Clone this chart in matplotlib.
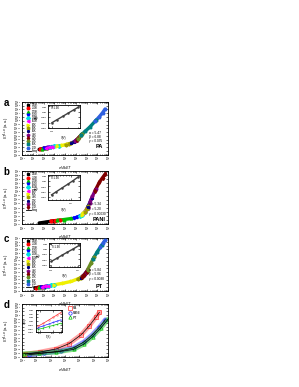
import matplotlib.pyplot as plt
import numpy as np
from matplotlib.lines import Line2D
from matplotlib.ticker import LogLocator, NullFormatter

plt.rcParams['font.family'] = ['Liberation Sans', 'DejaVu Sans']
plt.rcParams['mathtext.fontset'] = 'custom'
plt.rcParams['mathtext.rm'] = 'Liberation Sans'
plt.rcParams['mathtext.it'] = 'Liberation Sans:italic'
plt.rcParams['mathtext.bf'] = 'Liberation Sans:bold'
plt.rcParams['axes.linewidth'] = 0.6

# Origin-like colour / symbol order used for the temperature series
colors = ['#000000', '#ff0000', '#00c000', '#0000ff', '#00e0e0', '#ff00ff', '#f0f000',
          '#a0a000', '#000080', '#800080', '#800000', '#6b8e23', '#008080', '#3060e0']
markers = ['s', 'o', '^', 'v', 'D', '<', '>', 'h', '*', 'p', 'd', 'P', 'X', 'H']

# ---- panel a (PA), exponents of x = eV/kBT and y = I/T^(1+a)
temps_a = ['300K', '250K', '200K', '160K', '130K', '100K', '80K', '60K', '50K', '40K',
           '30K', '20K', '10K', '1.9K']
lx_a = [[0.6, 0.85, 1.1], [0.7, 1.0, 1.3], [0.9, 1.25, 1.6], [1.0, 1.3, 1.6],
        [1.6, 2.0, 2.4], [1.2, 1.5, 1.8], [2.3, 2.75, 3.2], [3.1, 3.35, 3.6],
        [3.6, 3.85, 4.1], [3.9, 4.1, 4.3], [4.1, 4.3, 4.5], [4.2, 4.4, 4.6],
        [4.5, 4.9, 5.3, 5.9], [5.8, 6.2, 6.5, 6.72]]
ly_a = [[-16.6, -16.42, -16.23], [-16.53, -16.31, -16.09], [-16.38, -16.13, -15.88],
        [-16.31, -16.09, -15.88], [-15.88, -15.75, -15.63], [-16.16, -15.94, -15.82],
        [-15.66, -15.5, -15.23], [-15.3, -15.1, -14.87], [-14.87, -14.54, -13.99],
        [-14.45, -13.99, -13.41], [-13.99, -13.41, -12.75], [-13.7, -13.1, -12.4],
        [-12.75, -11.74, -10.68, -8.84], [-9.14, -7.92, -6.87, -5.96]]
fitx_a = [0.6, 1.08, 1.56, 2.2, 2.8, 3.24, 3.56, 3.88, 4.12, 4.36, 4.6, 4.92, 5.24, 5.56, 5.88, 6.2, 6.6, 6.72]
fity_a = [-16.6, -16.25, -15.9, -15.69, -15.48, -15.2, -14.92, -14.5, -13.94, -13.24, -12.4,
          -11.7, -10.86, -9.88, -8.9, -7.92, -6.52, -5.96]
inset_v_a = [1.0, 1.25, 1.6, 2.0, 2.5, 3.0]
inset_i_a = [-11.0, -10.43, -9.8, -9.22, -8.65, -8.19]

# ---- panel b (PANI)
temps_b = ['300K', '250K', '200K', '150K', '100K', '80K', '60K', '40K', '20K', '10K', '1.9K']
lx_b = [[0.6, 1.2, 1.9], [1.7, 2.1, 2.5], [2.3, 2.9, 3.6], [3.8, 4.1, 4.4],
        [4.4, 4.6, 4.85], [4.7, 4.9, 5.1], [4.55, 4.7, 4.85], [4.85, 5.0, 5.15],
        [5.1, 5.3, 5.5], [5.3, 5.55, 5.85], [5.8, 6.2, 6.5, 6.76]]
ly_b = [[-16.74, -16.5, -16.22], [-16.27, -16.14, -16.02], [-16.08, -15.89, -15.63],
        [-15.54, -15.35, -14.99], [-14.99, -14.66, -14.0], [-14.4, -13.85, -12.9],
        [-14.8, -14.4, -14.0], [-14.0, -13.36, -12.6], [-12.9, -11.8, -10.55],
        [-11.8, -10.2, -8.5], [-8.8, -6.73, -5.6, -4.65]]
fitx_b = [0.6, 1.88, 3.08, 4.04, 4.6, 5.0, 5.32, 5.72, 6.2, 6.76]
fity_b = [-16.74, -16.22, -15.83, -15.44, -14.66, -13.36, -11.67, -9.2, -6.73, -4.65]
inset_v_b = [4.0, 5.0, 6.5, 8.5, 11.0, 14.0]
inset_i_b = [-11.6, -11.0, -10.3, -9.6, -8.9, -8.2]

# ---- panel c (PT)
temps_c = ['300K', '250K', '200K', '160K', '130K', '100K', '80K', '60K', '50K', '40K',
           '30K', '20K', '10K', '1.9K']
lx_c = [[0.2, 0.5, 0.8], [0.3, 0.6, 0.9], [0.6, 1.0, 1.4], [0.8, 1.1, 1.4],
        [1.4, 1.7, 2.0], [0.9, 1.15, 1.4], [2.0, 2.8, 3.6, 4.5], [4.2, 4.5, 4.7],
        [4.5, 4.75, 5.0], [4.7, 4.9, 5.1], [4.6, 4.8, 5.0], [5.1, 5.4, 5.7],
        [5.6, 6.0, 6.4], [6.3, 6.55, 6.76]]
ly_c = [[-17.16, -17.06, -16.95], [-17.13, -17.02, -16.92], [-17.02, -16.88, -16.67],
        [-16.95, -16.83, -16.67], [-16.67, -16.51, -16.36], [-16.92, -16.8, -16.67],
        [-16.36, -15.94, -15.45, -14.43], [-14.92, -14.43, -13.93], [-14.43, -13.8, -12.93],
        [-13.93, -13.43, -12.37], [-14.18, -13.68, -12.93], [-12.37, -10.7, -9.03],
        [-9.59, -7.63, -5.93], [-6.35, -5.3, -4.42]]
fitx_c = [0.2, 1.0, 2.2, 3.4, 4.36, 4.92, 5.32, 5.8, 6.36, 6.76]
fity_c = [-17.16, -16.88, -16.25, -15.62, -14.78, -13.38, -11.14, -8.48, -6.1, -4.42]
inset_v_c = [1.0, 1.6, 2.5, 4.0, 6.5, 11.0]
inset_i_c = [-11.4, -10.8, -10.2, -9.6, -9.0, -8.3]

# ---- panel d: all three polymers
names_d = ['PA', 'PANI', 'PT']
colors_d = ['#ff3030', '#2020ff', '#00c000']
markers_d = ['s', 'o', '^']
lx_d = [[-0.76, 0.26, 1.4, 2.3, 3.14, 3.68, 4.16, 4.4],
        [-0.52, 0.5, 1.7, 2.6, 3.32, 3.92, 4.4, 4.82],
        [-0.88, 0.2, 1.4, 2.6, 3.32, 3.92, 4.52, 5.0]]
ly_d = [[-19.3, -18.74, -17.9, -16.5, -14.12, -11.88, -9.5, -8.24],
        [-19.44, -19.02, -18.46, -17.62, -16.08, -14.12, -12.16, -10.2],
        [-19.16, -19.02, -18.74, -18.04, -16.64, -14.68, -12.3, -10.08]]
temp_inset_d = [90, 120, 160, 200, 250, 300]
g_inset_d = [[-10.4, -9.6, -8.7, -8.0, -7.3, -6.7],
             [-10.8, -10.3, -9.8, -9.4, -9.0, -8.7],
             [-11.3, -10.9, -10.5, -10.2, -9.9, -9.6]]

params = {
    'a': ('PA', ['α = 5.47', 'β = 6.88', 'γ = 0.035'], (0.40, 0.32, 0.24, 0.13)),
    'b': ('PANI', ['α = 5.34', 'β = 5.20', 'γ = 0.00030'], (0.36, 0.27, 0.18, 0.06)),
    'c': ('PT', ['α = 5.84', 'β = 5.06', 'γ = 0.0038'], (0.38, 0.30, 0.21, 0.06)),
}

FS = 1.9


def style_log(ax, fs=FS):
    ax.set_xscale('log')
    ax.set_yscale('log')
    ax.xaxis.set_major_locator(LogLocator(base=10, numticks=30))
    ax.yaxis.set_major_locator(LogLocator(base=10, numticks=30))
    ax.xaxis.set_minor_locator(LogLocator(base=10, subs=np.arange(2, 10), numticks=30))
    ax.yaxis.set_minor_formatter(NullFormatter())
    ax.xaxis.set_minor_formatter(NullFormatter())
    ax.yaxis.set_minor_locator(LogLocator(base=10, subs=[], numticks=30))
    ax.tick_params(which='both', direction='in', top=True, right=True,
                   labelsize=fs, pad=0.8, width=0.4)
    ax.tick_params(which='major', length=1.6)
    ax.tick_params(which='minor', length=0.8)


def manual_legend(ax, temps, top=0.94, step=0.062):
    # hand-placed key, a legend() box cannot be squeezed this tight
    for i, t in enumerate(temps):
        y = top - i * step
        ax.plot([0.075], [y], transform=ax.transAxes, ls='none', marker=markers[i],
                ms=1.9, color=colors[i], mec=colors[i], clip_on=False, zorder=5)
        ax.text(0.115, y, t, transform=ax.transAxes, fontsize=1.9, va='center')
    y = top - len(temps) * step
    ax.plot([0.05, 0.10], [y, y], transform=ax.transAxes, color='k', lw=0.6)
    ax.text(0.115, y, 'fitting', transform=ax.transAxes, fontsize=1.9, va='center')


def collapse_panel(ax, lx, ly, temps, fitx, fity, yr):
    fitx_v = 10 ** np.array(fitx)
    fity_v = 10 ** np.array(fity)
    ax.plot(fitx_v, fity_v, color='k', lw=0.6, zorder=1)
    for i, (xs, ys) in enumerate(zip(lx, ly)):
        c = colors[i]
        xv = 10 ** np.array(xs)
        yv = 10 ** np.array(ys)
        ax.plot(xv, yv, color=c, lw=2.4, solid_capstyle='round', zorder=2)
        ax.plot(xv, yv, ls='none', marker=markers[i], ms=2.0, color=c, mec=c, zorder=3)
    manual_legend(ax, temps)
    style_log(ax)
    ax.set_xlim(1e-1, 1e7)
    ax.set_ylim(10.0 ** yr[0], 10.0 ** yr[1])
    ax.set_xlabel('$eV/k_BT$', fontsize=2.8, labelpad=0.4)
    ax.set_ylabel('$I/T^{1+\\alpha}$ (a.u.)', fontsize=2.8, labelpad=0.4)


def iv_inset(fig, rect, v, i):
    ins = fig.add_axes(rect)
    ins.plot(v, 10 ** np.array(i), color='#404040', lw=1.0, marker='o', ms=0.8)
    style_log(ins, fs=1.7)
    ins.set_ylim(10 ** (min(i) - 1.0), 10 ** (max(i) + 0.4))
    ins.set_xlim(v[0] * 0.85, v[-1] * 1.1)
    ins.set_xlabel('V(V)', fontsize=2.0, labelpad=0.3)
    ins.set_ylabel('I(A)', fontsize=2.0, labelpad=0.3)
    ins.text(0.08, 0.82, 'T=1.9K', transform=ins.transAxes, fontsize=2.0)
    return ins


fig = plt.figure(figsize=(2.99, 3.87), dpi=100)
L, W, H = 0.0736, 0.2876, 0.137
bottoms = {'a': 0.600, 'b': 0.421, 'c': 0.248, 'd': 0.078}
axs = {k: fig.add_axes([L, b, W, H]) for k, b in bottoms.items()}

collapse_panel(axs['a'], lx_a, ly_a, temps_a, fitx_a, fity_a, (-18, -4))
collapse_panel(axs['b'], lx_b, ly_b, temps_b, fitx_b, fity_b, (-17, -4))
collapse_panel(axs['c'], lx_c, ly_c, temps_c, fitx_c, fity_c, (-18, -4))

for k in ('a', 'b', 'c'):
    ax = axs[k]
    name, lines, ys = params[k]
    for txt, yy in zip(lines, ys[:3]):
        ax.text(0.78, yy, txt, transform=ax.transAxes, fontsize=2.3)
    ax.text(0.90, ys[3], name, transform=ax.transAxes, fontsize=4.0,
            fontweight='bold', ha='center')

iv_inset(fig, [0.161, 0.669, 0.107, 0.059], inset_v_a, inset_i_a)
iv_inset(fig, [0.161, 0.483, 0.107, 0.065], inset_v_b, inset_i_b)
iv_inset(fig, [0.165, 0.311, 0.103, 0.060], inset_v_c, inset_i_c)

# panel d
ax = axs['d']
for j in range(3):
    xv = 10 ** np.array(lx_d[j])
    yv = 10 ** np.array(ly_d[j])
    c = colors_d[j]
    ax.plot(xv, yv, color=c, lw=3.4, alpha=0.45, solid_capstyle='round')
    ax.plot(xv, yv, ls='none', marker=markers_d[j], ms=2.4, mfc='none', mec=c, mew=0.5)
for j in range(3):
    ax.plot(10 ** np.array(lx_d[j]), 10 ** np.array(ly_d[j]), color='k', lw=0.5)
hd = [Line2D([], [], ls='none', marker=markers_d[j], ms=2.4, mfc='none', mec=colors_d[j],
             mew=0.5, label=names_d[j]) for j in range(3)]
ax.legend(handles=hd, loc='upper left', bbox_to_anchor=(0.52, 0.99), frameon=False,
          fontsize=2.4, labelspacing=0.2, handlelength=0.8, handletextpad=0.5,
          borderpad=0.1)
style_log(ax)
ax.set_xlim(1e-1, 1e5)
ax.set_ylim(1e-20, 1e-6)
ax.set_xlabel('$eV/k_BT$', fontsize=2.8, labelpad=0.4)
ax.set_ylabel('$I/T^{1+\\alpha}$ (a.u.)', fontsize=2.8, labelpad=0.4)

ins = fig.add_axes([0.120, 0.142, 0.087, 0.057])
for j in range(3):
    ins.plot(temp_inset_d, 10 ** np.array(g_inset_d[j]), color=colors_d[j], lw=0.5,
             marker=markers_d[j], ms=0.9, mfc='none', mew=0.3)
style_log(ins, fs=1.7)
ins.set_xlim(80, 320)
ins.set_ylim(1e-12, 1e-6)
ins.set_xticks([100, 200, 300])
ins.set_xticklabels(['100', '200', '300'])
ins.set_xlabel('T(K)', fontsize=2.0, labelpad=0.3)
ins.set_ylabel('G(S)', fontsize=2.0, labelpad=0.3)

for k, b in bottoms.items():
    fig.text(0.012, b + H - 0.002, k, fontsize=7, fontweight='bold', va='center')

fig.savefig('out.png', dpi=100)
